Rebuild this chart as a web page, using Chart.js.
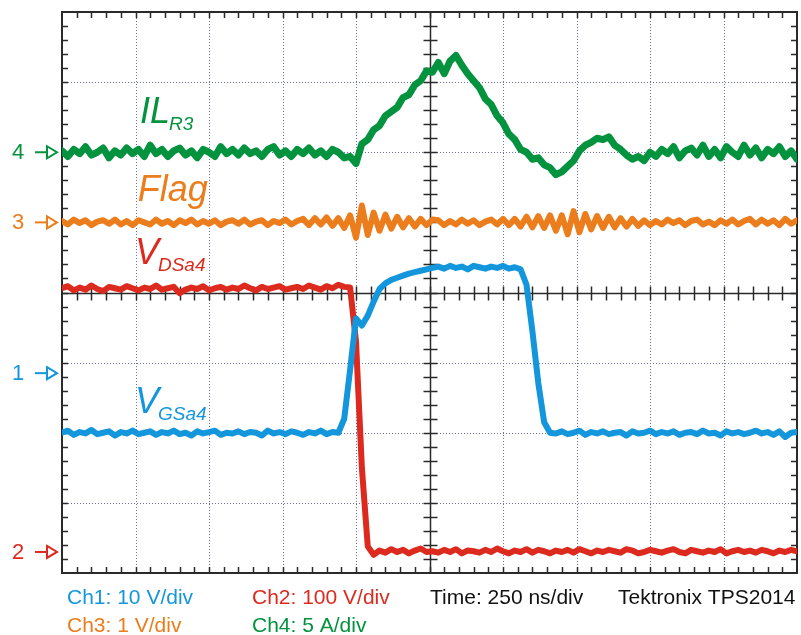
<!DOCTYPE html>
<html>
<head>
<meta charset="utf-8">
<title>TPS2014 capture</title>
<script src="https://cdn.jsdelivr.net/npm/chart.js@4.4.1/dist/chart.umd.min.js"></script>
<style>
  html, body { margin: 0; padding: 0; background: #fff; }
  #wrap { width: 801px; height: 635px; }
</style>
</head>
<body>
<div id="wrap"><canvas id="scope" width="801" height="635"></canvas></div>
<script>
// sample times, ns (250 ns/div, 10 divisions)
const timeNs = [
  0, 20, 40, 60, 80, 100, 120, 140, 160, 180, 200, 220, 240, 260, 280, 300, 320, 340, 360, 380,
  400, 420, 440, 460, 480, 500, 520, 540, 560, 580, 600, 620, 640, 660, 680, 700, 720, 740, 760, 780,
  800, 820, 840, 860, 880, 900, 920, 940, 960, 980, 1000, 1020, 1040, 1060, 1080, 1100, 1120, 1140, 1160, 1180,
  1200, 1220, 1240, 1260, 1280, 1300, 1320, 1340, 1360, 1380, 1400, 1420, 1440, 1460, 1480, 1500, 1520, 1540, 1560, 1580,
  1600, 1620, 1640, 1660, 1680, 1700, 1720, 1740, 1760, 1780, 1800, 1820, 1840, 1860, 1880, 1900, 1920, 1940, 1960, 1980,
  2000, 2020, 2040, 2060, 2080, 2100, 2120, 2140, 2160, 2180, 2200, 2220, 2240, 2260, 2280, 2300, 2320, 2340, 2360, 2380,
  2400, 2420, 2440, 2460, 2480, 2500
];

// Ch1: V_GSa4, volts
const ch1Volts = [
  -8.5, -8.2, -8.8, -8.4, -8.6, -8.1, -8.7, -8.5, -8.3, -8.9,
  -8.4, -8.6, -8.2, -8.7, -8.5, -8.3, -8.8, -8.4, -8.6, -8.2,
  -8.7, -8.5, -8.9, -8.3, -8.6, -8.4, -8.2, -8.8, -8.5, -8.6,
  -8.3, -8.7, -8.4, -8.5, -8.9, -8.2, -8.6, -8.4, -8.7, -8.3,
  -8.5, -8.8, -8.4, -8.6, -8.2, -8.7, -8.4, -8.5, -6.5, 0.5,
  7.8, 6.8, 8.2, 10.2, 12.0, 12.8, 13.3, 13.6, 13.9, 14.2,
  14.4, 14.6, 14.8, 15.0, 15.2, 14.9, 15.3, 15.0, 15.2, 14.8,
  15.3, 15.1, 14.9, 15.2, 15.0, 15.3, 14.9, 15.1, 14.8, 12.6,
  6.0, -1.4, -7.0, -8.5, -8.6, -8.3, -8.7, -8.5, -8.2, -8.8,
  -8.4, -8.6, -8.3, -8.7, -8.5, -8.4, -8.9, -8.3, -8.6, -8.5,
  -8.2, -8.7, -8.4, -8.6, -8.3, -8.8, -8.5, -8.4, -8.7, -8.2,
  -8.6, -8.5, -8.9, -8.3, -8.6, -8.4, -8.7, -8.5, -8.2, -8.6,
  -8.4, -8.8, -8.3, -9.1, -8.5, -8.4
];

// Ch2: V_DSa4, volts
const ch2Volts = [
  376, 379, 373, 377, 374, 380, 375, 372, 378, 376,
  374, 379, 376, 373, 377, 375, 380, 374, 376, 378,
  369, 374, 377, 375, 379, 373, 376, 378, 374, 377,
  375, 380, 376, 373, 378, 375, 377, 379, 374, 376,
  378, 375, 380, 377, 374, 379, 376, 381, 378, 377,
  300, 120, 8, -4, 2, -1, 4, 0, 3, -2,
  2, 5, 0, 1, -1, 3, 0, 4, -2, 2,
  1, -1, 3, 0, 5, 1, -2, 2, 0, 4,
  -1, 3, 1, -2, 2, 0, 3, -1, 4, 1,
  -2, 2, 0, 3, 1, -1, 4, 2, -2, 0,
  3, 1, -1, 2, 4, 0, -2, 3, 1, -1,
  2, 0, 4, -2, 1, 3, 0, 2, -1, 3,
  1, -2, 2, 0, 3, 1
];

// Ch3: Flag, volts
const ch3Volts = [
  0.02, -0.03, 0.04, -0.01, 0.03, -0.04, 0.01, 0.03, -0.02, 0.04,
  -0.03, 0.02, -0.04, 0.03, 0.00, -0.03, 0.04, -0.02, 0.02, -0.04,
  0.03, -0.01, 0.04, -0.03, 0.02, -0.02, 0.03, -0.04, 0.01, 0.03,
  -0.02, 0.04, -0.03, 0.01, 0.03, -0.04, 0.02, -0.01, 0.04, -0.03,
  0.02, 0.05, -0.04, 0.06, -0.03, 0.07, -0.05, 0.06, -0.08, 0.10,
  -0.22, 0.24, -0.18, 0.14, -0.12, 0.11, -0.09, 0.08, -0.07, 0.06,
  -0.06, 0.05, -0.04, 0.04, 0.03, -0.04, 0.02, -0.03, 0.04, -0.02,
  0.03, -0.04, 0.01, 0.04, -0.03, 0.05, -0.04, 0.05, -0.06, 0.08,
  -0.07, 0.09, -0.08, 0.10, -0.12, 0.10, -0.17, 0.16, -0.14, 0.12,
  -0.10, 0.09, -0.08, 0.08, -0.07, 0.06, -0.06, 0.05, -0.05, 0.03,
  -0.04, 0.02, -0.03, 0.04, -0.01, 0.03, -0.04, 0.02, 0.04, -0.03,
  0.01, -0.04, 0.03, -0.02, 0.04, -0.03, 0.02, 0.05, -0.03, 0.04,
  -0.02, 0.03, -0.04, 0.05, -0.02, 0.03
];

// Ch4: IL_R3, amps
const ch4Amps = [
  0.1, -0.3, 0.2, -0.1, 0.4, -0.2, 0.0, 0.3, -0.4, 0.1,
  -0.2, 0.3, -0.1, 0.2, -0.3, 0.5, -0.1, 0.2, -0.3, 0.1,
  0.3, -0.2, 0.1, -0.4, 0.2, 0.0, -0.3, 0.4, -0.1, 0.2,
  -0.2, 0.3, -0.1, 0.1, -0.3, 0.2, 0.4, -0.2, 0.1, -0.3,
  0.2, -0.1, 0.3, -0.2, 0.1, -0.3, 0.2, 0.0, -0.4, -0.3,
  -0.8, 0.6, 0.9, 1.6, 1.9, 2.6, 2.9, 3.2, 3.9, 4.1,
  4.8, 5.1, 5.8, 5.7, 6.4, 5.6, 6.5, 6.9, 6.2, 5.6,
  5.1, 4.6, 3.8, 3.4, 2.6, 2.1, 1.3, 0.9, 0.2, 0.0,
  -0.5, -0.4, -0.9, -1.1, -1.6, -1.4, -1.0, -0.6, 0.1, 0.5,
  0.7, 1.0, 0.9, 1.1, 0.5, 0.2, -0.2, -0.5, -0.3, -0.6,
  0.0, -0.3, 0.2, -0.1, 0.4, -0.4, 0.1, 0.3, -0.2, 0.5,
  -0.3, 0.2, -0.4, 0.4, 0.0, -0.3, 0.5, -0.2, 0.3, -0.4,
  0.2, -0.1, 0.4, -0.3, 0.1, -0.5
];

// scope settings: volts (or amps) per division, ground marker position in divisions
const channels = [
  { id: '1', values: ch1Volts, perDiv: 10,  ground: -1.15, color: '#1496dc', name: 'V', sub: 'GSa4', width: 6 },
  { id: '2', values: ch2Volts, perDiv: 100, ground: -3.70, color: '#dc2a1e', name: 'V', sub: 'DSa4', width: 6 },
  { id: '3', values: ch3Volts, perDiv: 1,   ground: 1.00,  color: '#ec7d1c', name: 'Flag', sub: '', width: 6 },
  { id: '4', values: ch4Amps,  perDiv: 5,   ground: 2.00,  color: '#03933f', name: 'IL', sub: 'R3', width: 7 }
];

const FONT = "'Liberation Sans', Arial, sans-serif";

function toDivs(ch) {
  return timeNs.map((t, i) => ({ x: t, y: ch.ground + ch.values[i] / ch.perDiv }));
}

function seg(ctx, x1, y1, x2, y2) {
  ctx.beginPath();
  ctx.moveTo(x1, y1);
  ctx.lineTo(x2, y2);
  ctx.stroke();
}

// graticule: dotted divisions, centre cross with minor ticks, framed border
const graticule = {
  id: 'graticule',
  beforeDatasetsDraw(chart) {
    const { ctx, chartArea: a, scales: { x, y } } = chart;
    const cx = Math.round(x.getPixelForValue(1250)) + 0.5;
    const cy = Math.round(y.getPixelForValue(0)) + 0.5;
    ctx.save();

    ctx.strokeStyle = '#6f6fb0';
    ctx.lineWidth = 1;
    ctx.setLineDash([1, 2]);
    for (let d = 1; d < 10; d++) {
      if (d === 5) continue;
      const px = Math.round(x.getPixelForValue(d * 250)) + 0.5;
      seg(ctx, px, a.top, px, a.bottom);
    }
    for (let d = -3; d <= 3; d++) {
      if (d === 0) continue;
      const py = Math.round(y.getPixelForValue(d)) + 0.5;
      seg(ctx, a.left, py, a.right, py);
    }
    ctx.setLineDash([]);

    ctx.strokeStyle = '#2a2a2a';
    ctx.lineWidth = 1.5;
    seg(ctx, cx, a.top, cx, a.bottom);
    seg(ctx, a.left, cy, a.right, cy);

    // minor ticks every 0.2 div
    for (let k = 1; k < 50; k++) {
      const px = Math.round(x.getPixelForValue(k * 50)) + 0.5;
      seg(ctx, px, a.top, px, a.top + 6);
      seg(ctx, px, a.bottom, px, a.bottom - 6);
      seg(ctx, px, cy - 7, px, cy + 7);
    }
    for (let k = -19; k < 20; k++) {
      const py = Math.round(y.getPixelForValue(k * 0.2)) + 0.5;
      seg(ctx, a.left, py, a.left + 6, py);
      seg(ctx, a.right, py, a.right - 6, py);
      seg(ctx, cx - 7, py, cx + 7, py);
    }

    ctx.lineWidth = 2;
    ctx.strokeRect(a.left, a.top, a.right - a.left, a.bottom - a.top);
    ctx.restore();
  },

  afterDraw(chart) {
    const { ctx, scales: { x, y } } = chart;
    ctx.save();

    // ground markers on the left edge
    channels.forEach(ch => {
      const py = y.getPixelForValue(ch.ground);
      ctx.fillStyle = ch.color;
      ctx.strokeStyle = ch.color;
      ctx.font = '22px ' + FONT;
      ctx.textBaseline = 'middle';
      ctx.textAlign = 'left';
      ctx.fillText(ch.id, 12, py + 1);
      ctx.lineWidth = 2;
      seg(ctx, 35, py, 47, py);
      ctx.beginPath();
      ctx.moveTo(47, py - 6);
      ctx.lineTo(57, py);
      ctx.lineTo(47, py + 6);
      ctx.closePath();
      ctx.stroke();
    });

    // trace names, anchored in time / division coordinates
    const names = [
      { ch: channels[3], t: 265, d: 2.42, subDrop: 7 },
      { ch: channels[2], t: 258, d: 1.30, subDrop: 0 },
      { ch: channels[1], t: 248, d: 0.40, subDrop: 7 },
      { ch: channels[0], t: 248, d: -1.72, subDrop: 7 }
    ];
    ctx.textBaseline = 'alphabetic';
    names.forEach(n => {
      const px = x.getPixelForValue(n.t);
      const py = y.getPixelForValue(n.d);
      ctx.fillStyle = n.ch.color;
      ctx.font = 'italic 36px ' + FONT;
      ctx.fillText(n.ch.name, px, py);
      const w = ctx.measureText(n.ch.name).width;
      if (n.ch.sub) {
        ctx.font = 'italic 19px ' + FONT;
        ctx.fillText(n.ch.sub, px + w - 1, py + n.subDrop);
      }
    });

    // settings readout under the screen
    ctx.font = '21px ' + FONT;
    const readout = [
      { text: 'Ch1: 10 V/div', x: 67, y: 604, color: channels[0].color },
      { text: 'Ch2: 100 V/div', x: 252, y: 604, color: channels[1].color },
      { text: 'Time: 250 ns/div', x: 430, y: 604, color: '#111111' },
      { text: 'Tektronix TPS2014', x: 618, y: 604, color: '#111111' },
      { text: 'Ch3: 1 V/div', x: 67, y: 632, color: channels[2].color },
      { text: 'Ch4: 5 A/div', x: 252, y: 632, color: channels[3].color }
    ];
    readout.forEach(r => {
      ctx.fillStyle = r.color;
      ctx.fillText(r.text, r.x, r.y);
    });
    ctx.restore();
  }
};

new Chart(document.getElementById('scope'), {
  type: 'line',
  data: {
    datasets: channels.map(ch => ({
      label: 'Ch' + ch.id,
      data: toDivs(ch),
      borderColor: ch.color,
      borderWidth: ch.width,
      pointRadius: 0,
      tension: 0,
      borderJoinStyle: 'round',
      borderCapStyle: 'round'
    }))
  },
  options: {
    responsive: false,
    animation: false,
    devicePixelRatio: 1,
    layout: { padding: { left: 62, top: 12, right: 4, bottom: 62 } },
    plugins: { legend: { display: false }, tooltip: { enabled: false } },
    scales: {
      x: { type: 'linear', min: 0, max: 2500, display: false },
      y: { type: 'linear', min: -4, max: 4, display: false }
    }
  },
  plugins: [graticule]
});
</script>
</body>
</html>
